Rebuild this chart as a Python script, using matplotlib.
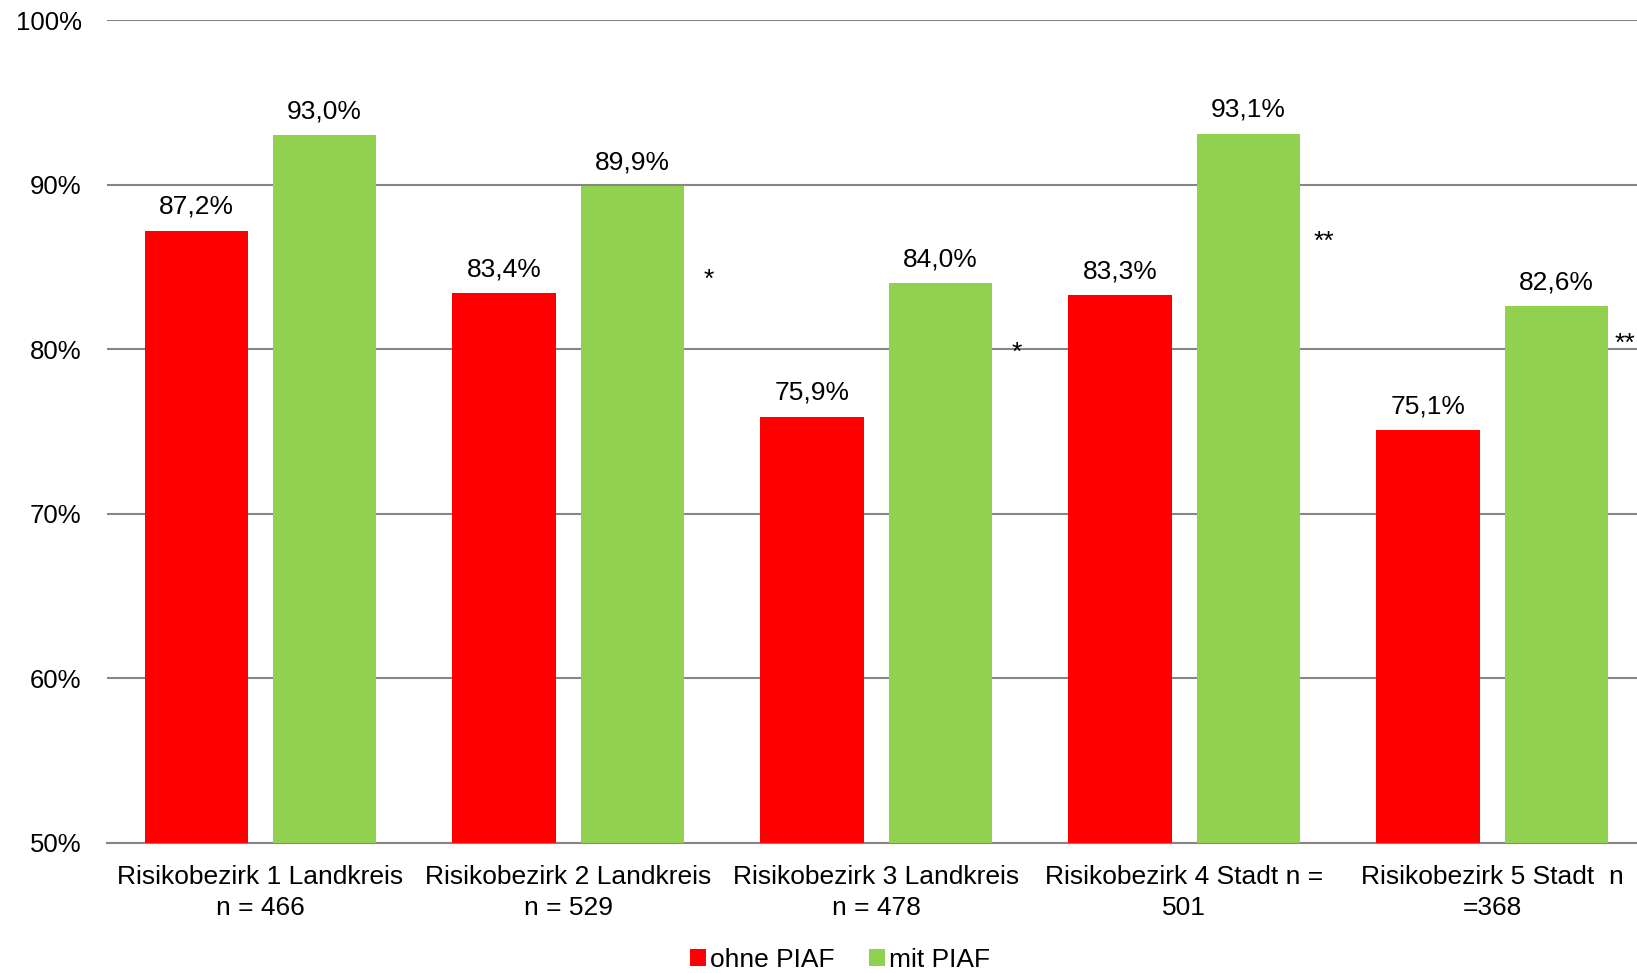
import matplotlib.pyplot as plt
import numpy as np

plt.rcParams["font.family"] = ["Liberation Sans", "DejaVu Sans"]

# Anteile je Risikobezirk
bezirke = ["Risikobezirk 1 Landkreis\nn = 466",
           "Risikobezirk 2 Landkreis\nn = 529",
           "Risikobezirk 3 Landkreis\nn = 478",
           "Risikobezirk 4 Stadt n =\n501",
           "Risikobezirk 5 Stadt  n\n=368"]
ohne_piaf = [87.2, 83.4, 75.9, 83.3, 75.1]
mit_piaf = [93.0, 89.9, 84.0, 93.1, 82.6]

# Signifikanzsterne (Text, Hoehe in %)
sterne = ["", "*", "*", "**", "**"]
stern_y = [0, 84.2, 79.8, 86.5, 80.3]

rot = "#FF0000"
gruen = "#92D050"

fig = plt.figure(figsize=(16.37, 9.73), dpi=100)
ax = fig.add_axes([106.5 / 1637, 1 - 843 / 973, (1646 - 106.5) / 1637, (843 - 20) / 973])

x = np.arange(len(bezirke)) + 0.5
w = 0.336
d = 0.2085

b1 = ax.bar(x - d, ohne_piaf, w, color=rot, label="ohne PIAF", zorder=3)
b2 = ax.bar(x + d, mit_piaf, w, color=gruen, label="mit PIAF", zorder=3)

def fmt(v):
    return f"{v:.1f}%".replace(".", ",")

for bars, vals in ((b1, ohne_piaf), (b2, mit_piaf)):
    for r, v in zip(bars, vals):
        ax.annotate(fmt(v), (r.get_x() + r.get_width() / 2, v),
                    xytext=(0, 8.5), textcoords="offset points",
                    ha="center", va="bottom", fontsize=19)

# Sterne rechts neben dem gruenen Balken, der letzte passt gerade noch ins Bild
for i, (xi, s, sy) in enumerate(zip(x, sterne, stern_y)):
    if s:
        dx = 0.455 if i < len(x) - 1 else 0.43
        ax.text(xi + dx, sy, s, ha="center", va="center", fontsize=19, zorder=4)

ax.set_ylim(50, 100)
ax.set_xlim(0, len(bezirke))
ax.set_yticks(np.arange(50, 101, 10))
ax.set_yticklabels([f"{t}%" for t in range(50, 101, 10)], fontsize=18.5)
ax.set_xticks(x)
ax.set_xticklabels(bezirke, fontsize=19, linespacing=1.35)
ax.tick_params(length=0)
ax.tick_params(axis="y", pad=18)
ax.tick_params(axis="x", pad=16)

ax.grid(axis="y", color="#868686", linewidth=1.5, zorder=0)
for s in ["top", "right", "left"]:
    ax.spines[s].set_visible(False)
ax.spines["bottom"].set_color("#868686")
ax.spines["bottom"].set_linewidth(1.5)

fig.legend(handles=[b1, b2], loc="center", bbox_to_anchor=(840 / 1637, 1 - 960 / 973),
           ncol=2, frameon=False, fontsize=19, handlelength=0.6, handleheight=0.6,
           handletextpad=0.15, columnspacing=1.3)

fig.savefig("out.png", dpi=100)
